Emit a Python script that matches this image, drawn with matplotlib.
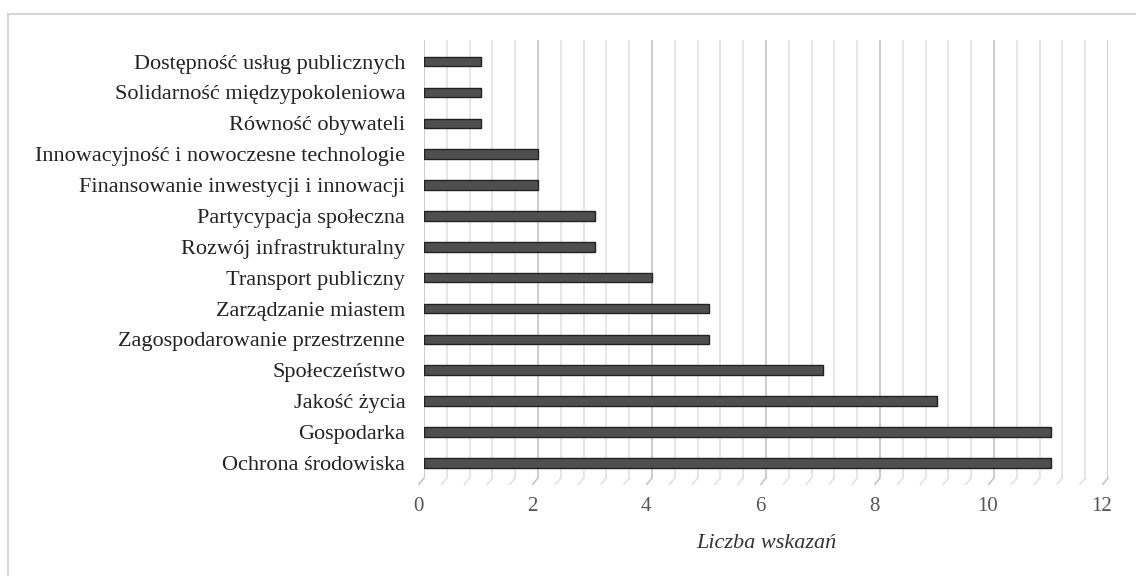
import numpy as np
import matplotlib.pyplot as plt
import matplotlib.transforms as mtransforms
from matplotlib.patches import Rectangle

categories = ['Ochrona środowiska', 'Gospodarka', 'Jakość życia', 'Społeczeństwo',
              'Zagospodarowanie przestrzenne', 'Zarządzanie miastem', 'Transport publiczny',
              'Rozwój infrastrukturalny', 'Partycypacja społeczna',
              'Finansowanie inwestycji i innowacji', 'Innowacyjność i nowoczesne technologie',
              'Równość obywateli', 'Solidarność międzypokoleniowa',
              'Dostępność usług publicznych']
values = [11, 11, 9, 7, 5, 5, 4, 3, 3, 2, 2, 1, 1, 1]
xticks = [0, 2, 4, 6, 8, 10, 12]

plt.rcParams['font.family'] = ['Liberation Serif', 'DejaVu Serif']

fig = plt.figure(figsize=(11.36, 5.76), dpi=100)
fig.patches.append(Rectangle((8 / 1136, -0.01), 1.0, 1 - 14 / 576 + 0.01,
                             transform=fig.transFigure, fill=False,
                             edgecolor='#d6d6d6', linewidth=1.5))

ax = fig.add_axes([424 / 1136, 98 / 576, 684 / 1136, 438 / 576])
y = np.arange(len(categories))

# grid lines (minor every 0.4, major every 2) with small 3D floor ticks
ybot = -0.49
ytop = 13.7
for gx in np.arange(0, 12.01, 0.4):
    major = abs(gx / 2 - round(gx / 2)) < 1e-6
    col = '#c4c4c4' if major else '#e2e2e2'
    ax.plot([gx, gx], [ybot, ytop], color=col, lw=1.2, zorder=0)
    ax.plot([gx, gx - 0.09], [ybot, ybot - 0.2], color=col, lw=1.2,
            zorder=0, clip_on=False)

ax.barh(y, values, height=0.31, color='#4f4f4f', edgecolor='#222222',
        linewidth=1.0, zorder=3)

ax.set_xlim(0, 12)
ax.set_ylim(ybot, ytop)
ax.set_yticks(y)
ax.set_yticklabels(categories, fontsize=16, color='#222222')
ax.set_xticks(xticks)
ax.set_xticklabels([str(t) for t in xticks], fontsize=15, color='#555555')
ax.tick_params(axis='y', length=0, pad=13.5)
ax.tick_params(axis='x', length=0, pad=14)
shift = mtransforms.ScaledTranslation(-6 / 100, 0, fig.dpi_scale_trans)
for lab in ax.get_xticklabels():
    lab.set_transform(lab.get_transform() + shift)
for s in ax.spines.values():
    s.set_visible(False)

ax.set_xlabel('Liczba wskazań', fontsize=16, style='italic', color='#333333',
              labelpad=13)

fig.savefig('out.png', dpi=100)
